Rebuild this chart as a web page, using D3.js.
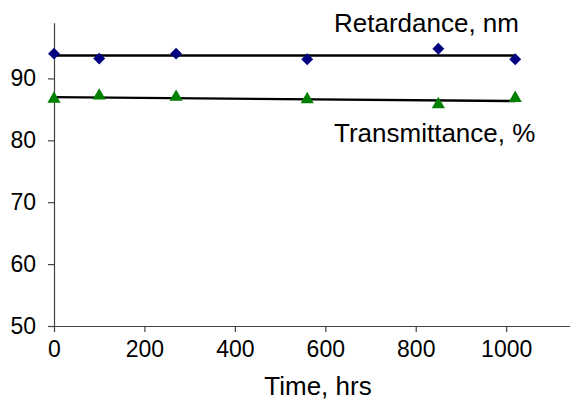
<!DOCTYPE html>
<html>
<head>
<meta charset="utf-8">
<script src="https://cdn.jsdelivr.net/npm/d3@7"></script>
<style>
  body { margin: 0; background: #fff; }
  text { font-family: Arial, "Liberation Sans", sans-serif; fill: #000; }
</style>
</head>
<body>
<div id="chart"></div>
<script>
var hours = [0, 100, 270, 560, 850, 1020];
var retardance = [94.0, 93.2, 94.0, 93.1, 94.8, 93.1];
var transmittance = [86.7, 87.2, 87.0, 86.6, 85.8, 86.8];
var xTicks = [0, 200, 400, 600, 800, 1000];
var yTicks = [50, 60, 70, 80, 90];

function init() {
	var w = 570;
	var h = 405;

	var xScale = d3.scaleLinear().domain([0, 1150]).range([54, 574]);
	var yScale = d3.scaleLinear().domain([50, 99]).range([326, 22.7]);

	var svg = d3.select("#chart")
		.append("svg")
		.attr("width", w)
		.attr("height", h);

	// axes
	var xAxis = d3.axisBottom(xScale).tickValues(xTicks).tickFormat(d3.format("d"))
		.tickSize(6).tickSizeOuter(0).tickPadding(9);
	var yAxis = d3.axisLeft(yScale).tickValues(yTicks).tickFormat(d3.format("d"))
		.tickSize(6).tickSizeOuter(0).tickPadding(12);

	var gx = svg.append("g").attr("transform", "translate(0," + yScale(50) + ")").call(xAxis);
	var gy = svg.append("g").attr("transform", "translate(" + xScale(0) + ",0)").call(yAxis);

	[gx, gy].forEach(function(g) {
		g.select(".domain").attr("stroke", "#444").attr("stroke-width", 1.2);
		g.selectAll(".tick line").attr("stroke", "#444").attr("stroke-width", 1.2);
		g.selectAll(".tick text")
			.attr("font-family", "Arial, 'Liberation Sans', sans-serif")
			.attr("font-size", 23)
			.attr("fill", "#000");
	});

	// least squares trend lines
	function fit(xs, ys) {
		var mx = d3.mean(xs), my = d3.mean(ys);
		var sxy = d3.sum(xs, function(x, i) { return (x - mx) * (ys[i] - my); });
		var sxx = d3.sum(xs, function(x) { return (x - mx) * (x - mx); });
		var b = sxy / sxx;
		return function(x) { return my + b * (x - mx); };
	}

	var series = [
		{ values: retardance, color: "#000080", shape: d3.symbolDiamond2, size: 90 },
		{ values: transmittance, color: "#008000", shape: d3.symbolTriangle, size: 75 }
	];

	var xExt = d3.extent(hours);
	series.forEach(function(s) {
		var f = fit(hours, s.values);
		svg.append("line")
			.attr("x1", xScale(xExt[0]))
			.attr("x2", xScale(xExt[1]))
			.attr("y1", yScale(f(xExt[0])))
			.attr("y2", yScale(f(xExt[1])))
			.attr("stroke", "#000")
			.attr("stroke-width", 2.4);

		svg.selectAll(null)
			.data(s.values)
			.enter()
			.append("path")
			.attr("d", d3.symbol().type(s.shape).size(s.size))
			.attr("transform", function(d, i) {
				return "translate(" + xScale(hours[i]) + "," + yScale(d) + ")";
			})
			.attr("fill", s.color);
	});

	// labels
	svg.append("text")
		.attr("x", 334).attr("y", 32)
		.attr("font-size", 26)
		.text("Retardance, nm");

	svg.append("text")
		.attr("x", 334).attr("y", 142)
		.attr("font-size", 26)
		.text("Transmittance, %");

	svg.append("text")
		.attr("x", 318).attr("y", 395)
		.attr("text-anchor", "middle")
		.attr("font-size", 26)
		.text("Time, hrs");
}

window.onload = init;
</script>
</body>
</html>
